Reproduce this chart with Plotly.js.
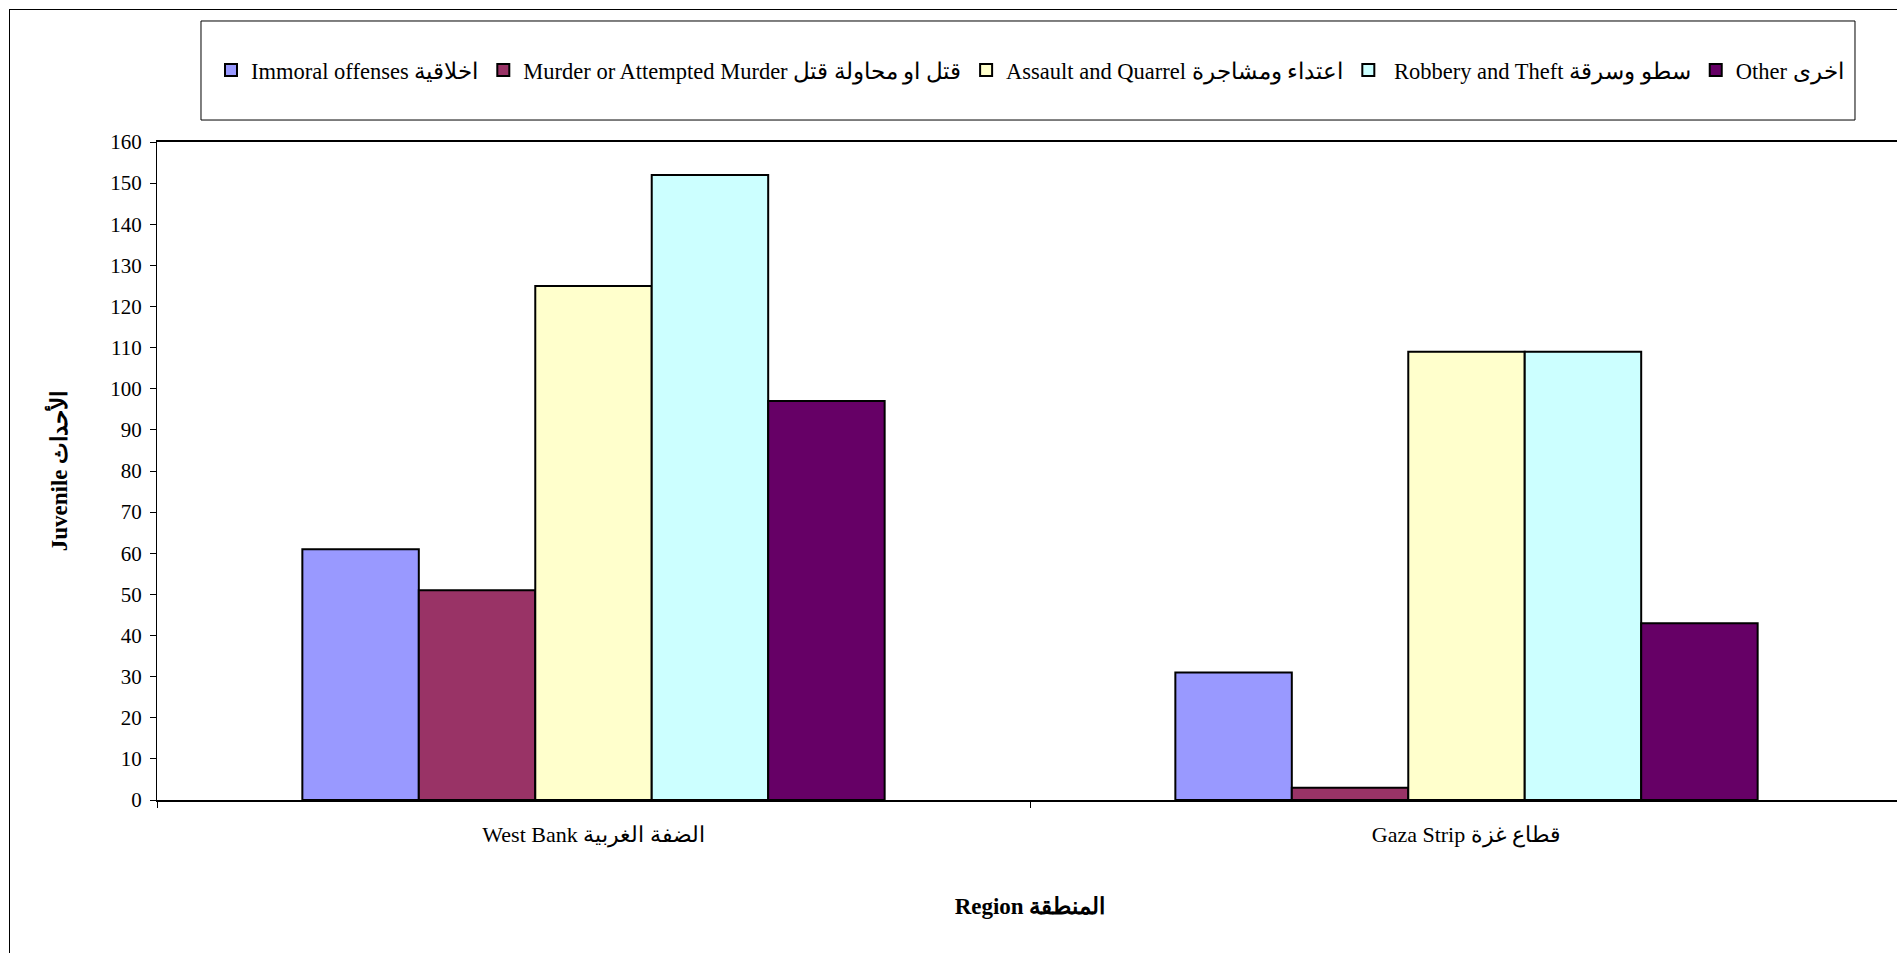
<!DOCTYPE html>
<html>
<head>
<meta charset="utf-8">
<script src="https://cdn.plot.ly/plotly-3.0.1.min.js"></script>
<style>
  html, body { margin: 0; padding: 0; overflow: hidden; background: #fff; width: 1897px; height: 953px; }
  #chart { position: absolute; left: 0; top: 0; width: 1960px; height: 953px; }
  #frame { position: absolute; left: 9px; top: 9px; width: 2100px; height: 1100px; border: 1px solid #000; pointer-events: none; }
</style>
</head>
<body>
<div id="chart"></div>
<div id="frame"></div>
<script>
const regions = ["West Bank الضفة الغربية", "Gaza Strip قطاع غزة"];

const seriesNames = [
  "Immoral offenses اخلاقية",
  "Murder or Attempted Murder قتل او محاولة قتل",
  "Assault and Quarrel اعتداء ومشاجرة",
  " Robbery and Theft سطو وسرقة",
  "Other اخرى"
];

const immoral = [61, 31];
const murder = [51, 3];
const assault = [125, 109];
const robbery = [152, 109];
const other = [97, 43];

const seriesValues = [immoral, murder, assault, robbery, other];
const seriesColors = ["#9999FF", "#993366", "#FFFFCC", "#CCFFFF", "#660066"];

const yTicks = [0, 10, 20, 30, 40, 50, 60, 70, 80, 90, 100, 110, 120, 130, 140, 150, 160];

const serif = "'Liberation Serif', 'Times New Roman', serif";

const traces = seriesNames.map((name, i) => ({
  type: "bar",
  name: name,
  x: regions,
  y: seriesValues[i],
  marker: { color: seriesColors[i], line: { color: "#000", width: 2 } },
  hoverinfo: "x+y+name"
}));

const layout = {
  width: 1960,
  height: 953,
  margin: { l: 157, r: 57, t: 142, b: 153 },
  paper_bgcolor: "#fff",
  plot_bgcolor: "#fff",
  font: { family: serif, color: "#000", size: 21 },
  barmode: "group",
  bargap: 0.333,
  bargroupgap: 0,
  showlegend: true,
  legend: {
    orientation: "h",
    x: 0.5,
    xanchor: "center",
    y: 1.1087,
    yanchor: "middle",
    font: { family: serif, size: 22.5, color: "#000" },
    bgcolor: "rgba(0,0,0,0)",
    borderwidth: 0,
    itemclick: false,
    itemdoubleclick: false
  },
  shapes: [{
    type: "rect",
    xref: "paper", yref: "paper",
    x0: 0.0252, x1: 0.9725, y0: 1.0334, y1: 1.1839,
    line: { color: "#000", width: 1 },
    fillcolor: "rgba(0,0,0,0)"
  }],
  xaxis: {
    type: "category",
    showline: true,
    linecolor: "#000",
    linewidth: 2,
    mirror: true,
    ticks: "outside",
    tickson: "boundaries",
    ticklen: 6,
    tickcolor: "#000",
    ticklabelstandoff: 14,
    tickfont: { family: serif, size: 22, color: "#000" },
    showgrid: false,
    zeroline: false,
    automargin: false,
    title: {
      text: "<b>Region المنطقة</b>",
      font: { family: serif, size: 23, color: "#000" },
      standoff: 50
    }
  },
  yaxis: {
    range: [0, 160],
    tickvals: yTicks,
    ticktext: yTicks.map(String),
    showline: true,
    linecolor: "#000",
    linewidth: 1,
    mirror: true,
    ticks: "outside",
    ticklen: 6,
    tickcolor: "#000",
    ticklabelstandoff: 4,
    tickfont: { family: serif, size: 21, color: "#000" },
    showgrid: false,
    zeroline: false,
    automargin: false,
    title: {
      text: "<b>Juvenile الأحداث</b>",
      font: { family: serif, size: 23, color: "#000" },
      standoff: 36
    }
  }
};

Plotly.newPlot("chart", traces, layout, { displayModeBar: false, staticPlot: false, responsive: false });
</script>
</body>
</html>
